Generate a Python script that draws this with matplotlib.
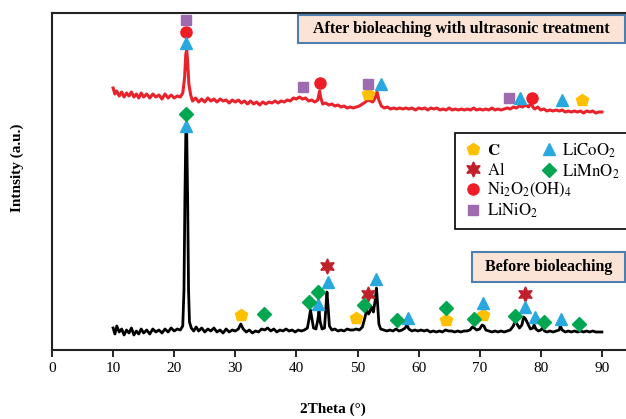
import matplotlib
matplotlib.use("Agg")
import matplotlib.pyplot as plt
from matplotlib.lines import Line2D
from matplotlib.patches import Rectangle

plt.rcParams['font.family'] = ['Liberation Serif', 'DejaVu Serif']
plt.rcParams['mathtext.fontset'] = 'stix'

# black pattern (before bioleaching): 2theta, intensity
before_pts = [
    (10.0, 22), (10.3, 16), (10.6, 24), (11.0, 18), (11.4, 21), (11.8, 15), (12.2, 20), (12.6, 17),
    (13.0, 22), (13.4, 15), (13.8, 19), (14.2, 16), (14.6, 21), (15.0, 17), (15.5, 20), (16.0, 16),
    (16.5, 21), (17.0, 18), (17.5, 20), (18.0, 17), (18.5, 21), (19.0, 18), (19.5, 22), (20.0, 19),
    (20.5, 21), (21.0, 20), (21.4, 24), (21.6, 60), (21.75, 150), (21.9, 217), (22.05, 217),
    (22.2, 150), (22.35, 60), (22.5, 28), (22.8, 22), (23.2, 19), (23.6, 23), (24.0, 19), (24.5, 22),
    (25.0, 18), (25.5, 21), (26.0, 19), (26.5, 22), (27.0, 18), (27.5, 20), (28.0, 17), (28.5, 21),
    (29.0, 18), (29.5, 20), (30.0, 19), (30.5, 21), (30.9, 26), (31.3, 21), (31.8, 18), (32.3, 20),
    (32.8, 17), (33.3, 19), (33.8, 18), (34.3, 21), (34.8, 20), (35.3, 22), (35.8, 19), (36.3, 21),
    (36.8, 18), (37.3, 20), (37.8, 19), (38.3, 21), (38.8, 19), (39.3, 20), (39.8, 18), (40.3, 20),
    (40.8, 19), (41.3, 20), (41.8, 22), (42.1, 32), (42.3, 40), (42.5, 33), (42.8, 22), (43.2, 21),
    (43.5, 30), (43.7, 39), (43.9, 28), (44.2, 21), (44.6, 22), (44.8, 40), (45.0, 58), (45.2, 42),
    (45.4, 24), (45.8, 20), (46.3, 21), (46.8, 19), (47.3, 20), (47.8, 19), (48.3, 21), (48.8, 20),
    (49.3, 20), (49.8, 21), (50.3, 20), (50.8, 23), (51.2, 32), (51.5, 40), (51.8, 36), (52.0, 38),
    (52.3, 43), (52.6, 38), (52.9, 50), (53.1, 62), (53.3, 45), (53.5, 26), (53.8, 21), (54.3, 20),
    (54.8, 19), (55.3, 20), (55.8, 19), (56.3, 21), (56.8, 19), (57.3, 20), (57.8, 22), (58.1, 25),
    (58.4, 21), (58.9, 19), (59.4, 20), (59.9, 19), (60.4, 20), (60.9, 19), (61.4, 20), (61.9, 18),
    (62.4, 19), (62.9, 18), (63.4, 19), (63.9, 18), (64.4, 20), (64.9, 19), (65.4, 19), (65.9, 18),
    (66.4, 19), (66.9, 18), (67.4, 19), (67.9, 19), (68.4, 20), (68.8, 23), (69.1, 22), (69.5, 20),
    (70.0, 21), (70.4, 25), (70.7, 24), (71.0, 20), (71.5, 19), (72.0, 18), (72.5, 19), (73.0, 18),
    (73.5, 19), (74.0, 18), (74.5, 19), (75.0, 20), (75.5, 24), (75.8, 29), (76.1, 26), (76.5, 22),
    (76.9, 25), (77.2, 33), (77.5, 31), (77.9, 26), (78.3, 21), (78.7, 22), (78.9, 25), (79.2, 21),
    (79.6, 19), (80.0, 20), (80.3, 22), (80.6, 19), (81.0, 18), (81.5, 19), (82.0, 18), (82.5, 19),
    (83.0, 20), (83.2, 24), (83.5, 20), (84.0, 18), (84.5, 19), (85.0, 18), (85.5, 19), (86.0, 18),
    (86.5, 19), (87.0, 18), (87.5, 19), (88.0, 18), (88.5, 19), (89.0, 18), (89.5, 18), (90.0, 18),
]

# red pattern (after bioleaching with ultrasonic treatment)
after_pts = [
    (10.0, 262), (10.3, 256), (10.6, 259), (11.0, 254), (11.4, 258), (11.8, 253), (12.2, 257),
    (12.6, 254), (13.0, 258), (13.4, 253), (13.8, 256), (14.2, 252), (14.6, 257), (15.0, 253),
    (15.5, 256), (16.0, 252), (16.5, 256), (17.0, 253), (17.5, 255), (18.0, 251), (18.5, 256),
    (19.0, 252), (19.5, 255), (20.0, 252), (20.5, 254), (21.0, 253), (21.4, 257), (21.7, 272),
    (21.9, 296), (22.05, 300), (22.2, 288), (22.4, 266), (22.7, 255), (23.0, 249), (23.5, 252),
    (24.0, 248), (24.5, 251), (25.0, 248), (25.5, 252), (26.0, 249), (26.5, 251), (27.0, 248),
    (27.5, 251), (28.0, 249), (28.5, 250), (29.0, 247), (29.5, 250), (30.0, 248), (30.5, 250),
    (31.0, 247), (31.5, 249), (32.0, 246), (32.5, 249), (33.0, 246), (33.5, 248), (34.0, 245),
    (34.5, 248), (35.0, 246), (35.5, 248), (36.0, 247), (36.5, 249), (37.0, 247), (37.5, 249),
    (38.0, 248), (38.5, 250), (39.0, 249), (39.5, 252), (40.0, 251), (40.5, 253), (41.0, 251),
    (41.5, 252), (42.0, 249), (42.5, 250), (43.0, 248), (43.5, 250), (43.8, 259), (44.0, 252),
    (44.3, 246), (44.8, 247), (45.3, 245), (45.8, 246), (46.3, 244), (46.8, 245), (47.3, 243),
    (47.8, 244), (48.3, 242), (48.8, 243), (49.3, 242), (49.8, 243), (50.3, 244), (50.8, 246),
    (51.3, 248), (51.7, 250), (52.1, 249), (52.5, 248), (52.9, 252), (53.2, 258), (53.5, 250),
    (53.9, 244), (54.4, 242), (54.9, 243), (55.4, 241), (55.9, 242), (56.4, 241), (56.9, 242),
    (57.4, 241), (57.9, 242), (58.4, 241), (58.9, 242), (59.5, 240), (60.0, 242), (60.5, 241),
    (61.0, 242), (61.5, 240), (62.0, 242), (62.5, 241), (63.0, 242), (63.5, 240), (64.0, 241),
    (64.5, 240), (65.0, 242), (65.5, 240), (66.0, 241), (66.5, 240), (67.0, 241), (67.5, 240),
    (68.0, 241), (68.5, 240), (69.0, 242), (69.5, 240), (70.0, 241), (70.5, 240), (71.0, 241),
    (71.5, 240), (72.0, 242), (72.5, 240), (73.0, 241), (73.5, 240), (74.0, 241), (74.5, 242),
    (75.0, 241), (75.5, 243), (76.0, 242), (76.5, 244), (77.0, 243), (77.5, 245), (78.0, 243),
    (78.4, 247), (78.7, 243), (79.0, 241), (79.5, 243), (80.0, 240), (80.5, 241), (81.0, 239),
    (81.5, 240), (82.0, 239), (82.5, 240), (83.0, 239), (83.5, 240), (84.0, 238), (84.5, 239),
    (85.0, 238), (85.5, 239), (86.0, 238), (86.5, 239), (87.0, 237), (87.5, 239), (88.0, 238),
    (88.5, 239), (89.0, 237), (89.5, 238), (90.0, 238),
]

# phase markers
c_x = [30.9, 49.8, 64.5, 70.6, 51.7, 86.7]
c_y = [35, 32, 30, 35, 256, 250]
licoo2_x = [21.9, 43.6, 45.2, 53.1, 58.2, 70.6, 77.4, 79.0, 83.3, 22.0, 53.8, 76.6, 83.5]
licoo2_y = [224, 46, 68, 71, 32, 47, 43, 33, 31, 307, 266, 252, 250]
al_x = [45.0, 51.7, 77.4]
al_y = [84, 56, 56]
limno2_x = [21.9, 34.7, 42.1, 43.6, 51.1, 56.4, 64.5, 69.0, 75.7, 80.5, 86.3]
limno2_y = [236, 36, 48, 58, 45, 30, 42, 31, 34, 28, 26]
ni_x = [22.0, 43.9, 78.5]
ni_y = [318, 267, 252]
lini_x = [22.0, 41.0, 51.7, 74.8]
lini_y = [330, 263, 266, 252]

xticks = [0, 10, 20, 30, 40, 50, 60, 70, 80, 90]

fig = plt.figure(figsize=(6.26, 4.19), dpi=100)
ax = fig.add_axes([52/626, 69/419, 611/626, 337/419])

bx, by = zip(*before_pts)
rx, ry = zip(*after_pts)
ax.plot(bx, by, color='black', lw=2.0)
ax.plot(rx, ry, color='#E8232B', lw=2.2)

ax.plot(c_x, c_y, 'p', color='#FFC000', ms=9, ls='none', label=r'$\mathbf{C}$')
ax.plot(al_x, al_y, marker=(6, 1, 0), color='#C0202A', ms=11, ls='none', label=r'$\mathrm{Al}$')
ax.plot(ni_x, ni_y, 'o', color='#EE1C25', ms=8, ls='none', label=r'$\mathrm{Ni_2O_2(OH)_4}$')
ax.plot(lini_x, lini_y, 's', color='#9E6BB0', ms=7.5, ls='none', label=r'$\mathrm{LiNiO_2}$')
ax.plot(licoo2_x, licoo2_y, '^', color='#29A8E0', ms=9, ls='none', label=r'$\mathrm{LiCoO_2}$')
ax.plot(limno2_x, limno2_y, 'D', color='#00A650', ms=7, ls='none', label=r'$\mathrm{LiMnO_2}$')

ax.set_xlim(0, 100)
ax.set_ylim(0, 337)
ax.set_xticks(xticks)
ax.set_yticks([])
ax.tick_params(axis='x', direction='out', length=5, width=1.2, labelsize=11)
for s in ax.spines.values():
    s.set_linewidth(1.5)
    s.set_color('#222222')

ax.set_xlabel('2Theta (°)', fontsize=11, fontweight='bold')
ax.xaxis.set_label_coords(0.46, -0.155)
ax.set_ylabel('Intnsity (a.u.)', fontsize=11, fontweight='bold')
ax.yaxis.set_label_coords(-0.046, 0.54)

# legend: 2 columns, 4 rows (second column has 2 entries)
h, l = ax.get_legend_handles_labels()
blank = Line2D([], [], ls='none')
handles = h + [blank, blank]
labels = l + ['', '']
leg = ax.legend(handles, labels, ncol=2, loc='upper left',
                bbox_to_anchor=(455/626, 1 - 133/419), bbox_transform=fig.transFigure,
                borderaxespad=0, fancybox=False, edgecolor='black', fontsize=12,
                labelspacing=0.15, handletextpad=0.2, columnspacing=-2.0,
                handlelength=1.2, borderpad=0.5)
leg.get_frame().set_linewidth(1.2)
leg.get_frame().set_alpha(1)

# sample boxes
for (x0, y0, w, hgt, txt) in [(298, 15, 327, 28, 'After bioleaching with ultrasonic treatment'),
                              (472, 252, 153, 30, 'Before bioleaching')]:
    fig.patches.append(Rectangle((x0/626, 1 - (y0 + hgt)/419), w/626, hgt/419,
                                 transform=fig.transFigure, fc='#FBE4D5', ec='#4F7FAF', lw=1.5))
    fig.text((x0 + w/2)/626, 1 - (y0 + hgt/2)/419, txt, ha='center', va='center',
             fontsize=11.5, fontweight='bold')

fig.savefig('out.png', dpi=100)
